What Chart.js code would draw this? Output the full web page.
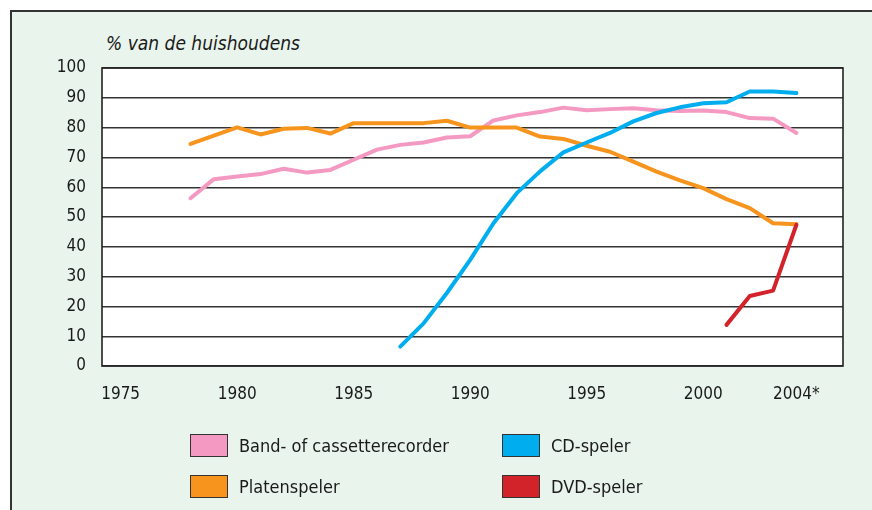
<!DOCTYPE html>
<html>
<head>
<meta charset="utf-8">
<script src="https://cdn.jsdelivr.net/npm/chart.js@4"></script>
<style>
  html, body { margin: 0; padding: 0; background: #fff; }
  #wrap { position: relative; width: 872px; height: 510px; overflow: hidden; }
  #frame {
    position: absolute; left: 10px; top: 10px; right: -10px; bottom: -10px;
    background: #e9f4ec; border-left: 2px solid #333; border-top: 2px solid #333;
  }
  #chart { position: absolute; left: 0; top: 0; }
  #unit {
    position: absolute; left: 106px; top: 32px;
    font: italic 19px "DejaVu Sans Condensed", "DejaVu Sans", sans-serif; color: #1a1a1a;
  }
  .leg { position: absolute; display: flex; align-items: center;
    font: 18px "DejaVu Sans Condensed", "DejaVu Sans", sans-serif; color: #1a1a1a; }
  .leg span.box { display: inline-block; width: 36px; height: 21px; border: 1.5px solid #333; margin-right: 11px; }
</style>
</head>
<body>
<div id="wrap">
  <div id="frame"></div>
  <div id="unit">% van de huishoudens</div>
  <canvas id="chart" width="872" height="510"></canvas>
  <div id="legend"></div>
</div>
<script>
// Huishoudens met apparaat, in % (jaarcijfers)
const years = [1978, 1979, 1980, 1981, 1982, 1983, 1984, 1985, 1986, 1987, 1988, 1989, 1990,
  1991, 1992, 1993, 1994, 1995, 1996, 1997, 1998, 1999, 2000, 2001, 2002, 2003, 2004];

const bandCassette = [56.3, 62.7, 63.6, 64.4, 66.2, 64.9, 65.8, 69.2, 72.6, 74.2, 75.0, 76.7, 77.1,
  82.4, 84.1, 85.2, 86.7, 85.8, 86.2, 86.5, 85.8, 85.6, 85.7, 85.2, 83.2, 83.0, 78.2];
const platenspeler = [74.5, 77.3, 80.1, 77.7, 79.6, 79.9, 78.0, 81.5, 81.5, 81.5, 81.5, 82.3, 80.0,
  80.0, 80.0, 77.0, 76.2, 73.9, 71.9, 68.6, 65.2, 62.3, 59.7, 56.0, 53.0, 47.9, 47.6];
const cdSpeler = [null, null, null, null, null, null, null, null, null, 6.5, 14.3, 24.5, 35.6,
  47.9, 58.0, 65.3, 71.7, 75.0, 78.2, 82.1, 84.9, 86.8, 88.2, 88.5, 92.1, 92.1, 91.6];
const dvdSpeler = [null, null, null, null, null, null, null, null, null, null, null, null, null,
  null, null, null, null, null, null, null, null, null, null, 13.8, 23.5, 25.3, 47.4];

const xTicks = [1975, 1980, 1985, 1990, 1995, 2000, 2004];
const xTickLabels = ['1975', '1980', '1985', '1990', '1995', '2000', '2004*'];
const yTicks = [0, 10, 20, 30, 40, 50, 60, 70, 80, 90, 100];

const seriesNames = ['Band- of cassetterecorder', 'Platenspeler', 'CD-speler', 'DVD-speler'];
const seriesColors = ['#f49ac2', '#f7941d', '#00aeef', '#d2232a'];
const seriesValues = [bandCassette, platenspeler, cdSpeler, dvdSpeler];

const FONT = '"DejaVu Sans Condensed", "DejaVu Sans", sans-serif';

// white plot area + black frame around it
const plotFrame = {
  id: 'plotFrame',
  beforeDraw(chart) {
    const { ctx, chartArea: a } = chart;
    ctx.save();
    ctx.fillStyle = '#fff';
    ctx.fillRect(a.left, a.top, a.right - a.left, a.bottom - a.top);
    ctx.restore();
  },
  afterDatasetsDraw(chart) {
    const { ctx, chartArea: a } = chart;
    ctx.save();
    ctx.strokeStyle = '#222';
    ctx.lineWidth = 1.6;
    ctx.strokeRect(a.left, a.top, a.right - a.left, a.bottom - a.top);
    ctx.restore();
  }
};

const datasets = seriesValues.map((vals, i) => ({
  label: seriesNames[i],
  data: years.map((yr, j) => ({ x: yr, y: vals[j] })),
  borderColor: seriesColors[i],
  backgroundColor: seriesColors[i],
  borderWidth: 4,
  borderCapStyle: 'round',
  borderJoinStyle: 'round',
  pointRadius: 0,
  tension: 0,
  spanGaps: false,
  order: 4 - i
}));

new Chart(document.getElementById('chart'), {
  type: 'line',
  data: { datasets },
  options: {
    responsive: false,
    animation: false,
    layout: { padding: { top: 68, right: 29, left: 0, bottom: 0 } },
    plugins: {
      legend: { display: false },
      tooltip: { enabled: false },
      title: { display: false }
    },
    scales: {
      x: {
        type: 'linear',
        min: 1974.2,
        max: 2006,
        afterBuildTicks: (scale) => { scale.ticks = xTicks.map(v => ({ value: v })); },
        afterFit: (scale) => { scale.height = 144; },
        grid: { display: false, drawTicks: false },
        border: { display: false },
        ticks: {
          padding: 18,
          color: '#1a1a1a',
          font: { family: FONT, size: 17 },
          maxRotation: 0,
          autoSkip: false,
          callback: (v) => xTickLabels[xTicks.indexOf(v)]
        }
      },
      y: {
        min: 0,
        max: 100,
        afterBuildTicks: (scale) => { scale.ticks = yTicks.map(v => ({ value: v })); },
        afterFit: (scale) => { scale.width = 102; },
        grid: { color: '#333', lineWidth: 1.4, drawTicks: false },
        border: { display: false },
        ticks: {
          padding: 16,
          color: '#1a1a1a',
          font: { family: FONT, size: 17 }
        }
      }
    }
  },
  plugins: [plotFrame]
});

// legend in two columns
const legendPos = [[190, 434], [190, 475], [502, 434], [502, 475]];
const legendOrder = [0, 1, 2, 3];
const legendEl = document.getElementById('legend');
legendOrder.forEach((s, k) => {
  const d = document.createElement('div');
  d.className = 'leg';
  d.style.left = legendPos[k][0] + 'px';
  d.style.top = legendPos[k][1] + 'px';
  d.innerHTML = '<span class="box" style="background:' + seriesColors[s] + '"></span>' + seriesNames[s];
  legendEl.appendChild(d);
});
</script>
</body>
</html>
